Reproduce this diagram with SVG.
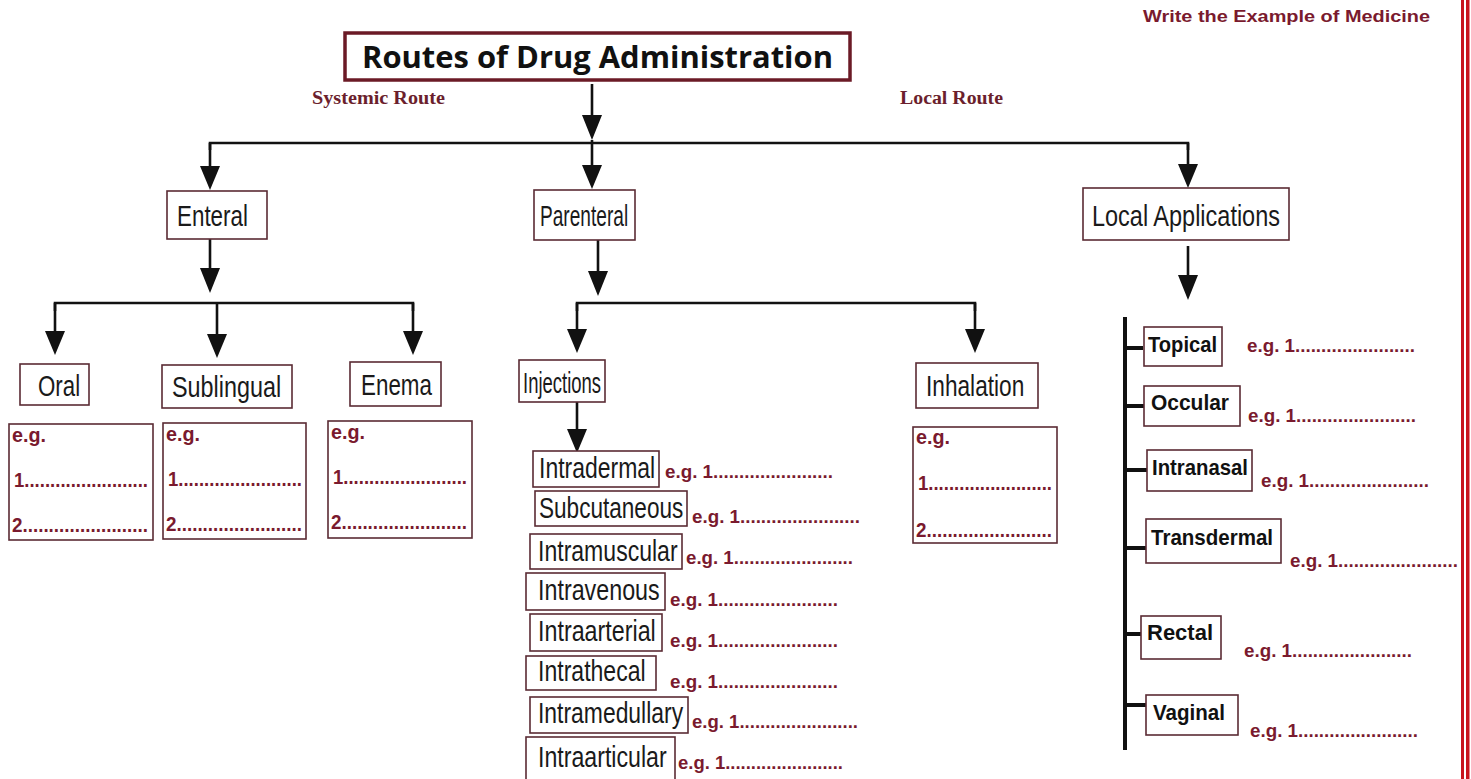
<svg xmlns="http://www.w3.org/2000/svg" width="1471" height="779" viewBox="0 0 1471 779">
<style>
.bx{fill:#fff;stroke:#5a2b34;stroke-width:1.6}
.lb{font-family:"Liberation Sans",Arial,sans-serif;font-size:29px;fill:#1a1a1a}
.lbb{font-family:"Liberation Sans",Arial,sans-serif;font-size:22px;font-weight:bold;fill:#111}
.eg{font-family:"Liberation Sans",Arial,sans-serif;font-size:19px;font-weight:bold;fill:#7a1a2e}
.egb{font-family:"Liberation Sans",Arial,sans-serif;font-size:21px;font-weight:bold;fill:#7a1a2e}
.rt{font-family:"Liberation Serif","Times New Roman",serif;font-size:18px;font-weight:bold;fill:#6b1f2d}
.ln{fill:none;stroke:#111;stroke-width:2.6}
.hd{fill:#111}
</style>
<rect width="1471" height="779" fill="#fff"/>
<rect x="1461" y="0" width="3" height="779" fill="#c8141c"/>
<rect x="1466" y="0" width="3.5" height="779" fill="#c8141c"/>

<text x="1143" y="22" font-family="Liberation Sans,Arial,sans-serif" font-size="16" font-weight="bold" fill="#7a1a2e" textLength="287" lengthAdjust="spacingAndGlyphs">Write the Example of Medicine</text>

<g id="title">
<rect x="345" y="33" width="505" height="47" fill="#fff" stroke="#6b1a26" stroke-width="3.5"/>
<text x="362" y="68" font-family="Open Sans,Liberation Sans,sans-serif" font-size="30" font-weight="bold" fill="#111" textLength="471" lengthAdjust="spacingAndGlyphs">Routes of Drug Administration</text>
</g>
<text class="rt" x="312" y="104" textLength="133" lengthAdjust="spacingAndGlyphs">Systemic Route</text>
<text class="rt" x="900" y="104" textLength="103" lengthAdjust="spacingAndGlyphs">Local Route</text>

<g id="connectors">
<path class="ln" d="M592 84 V118"/>
<path class="hd" d="M582 115 H602 L592 140 Z"/>
<path class="ln" d="M210 150 V143 H1188 V150"/>
<path class="ln" d="M592 140 V168"/>
<path class="hd" d="M582 165 H602 L592 189 Z"/>
<path class="ln" d="M210 143 V170"/>
<path class="hd" d="M200 166 H220 L210 190 Z"/>
<path class="ln" d="M1188 143 V168"/>
<path class="hd" d="M1178 164 H1198 L1188 188 Z"/>
<path class="ln" d="M210 238 V272"/>
<path class="hd" d="M200 268 H220 L210 293 Z"/>
<path class="ln" d="M55 311 V303 H413 V311"/>
<path class="ln" d="M55 303 V334"/>
<path class="hd" d="M45 331 H65 L55 355 Z"/>
<path class="ln" d="M217 303 V337"/>
<path class="hd" d="M207 334 H227 L217 358 Z"/>
<path class="ln" d="M413 303 V334"/>
<path class="hd" d="M403 331 H423 L413 355 Z"/>
<path class="ln" d="M598 240 V274"/>
<path class="hd" d="M588 271 H608 L598 296 Z"/>
<path class="ln" d="M577 311 V303 H975 V311"/>
<path class="ln" d="M577 303 V332"/>
<path class="hd" d="M567 329 H587 L577 353 Z"/>
<path class="ln" d="M975 303 V332"/>
<path class="hd" d="M965 329 H985 L975 353 Z"/>
<path class="ln" d="M577 402 V432"/>
<path class="hd" d="M567 429 H587 L577 453 Z"/>
<path class="ln" d="M1188 246 V278"/>
<path class="hd" d="M1178 275 H1198 L1188 300 Z"/>
<path d="M1125 317 V750" fill="none" stroke="#111" stroke-width="4"/>
<path d="M1125 348 H1143 M1125 406 H1144 M1125 470 H1147 M1125 548 H1146 M1125 634 H1141 M1125 705 H1146" fill="none" stroke="#111" stroke-width="4"/>
</g>

<g id="enteral"><rect class="bx" x="167" y="191" width="100" height="48"/><text class="lb" transform="translate(177 226) scale(0.78 1)" textLength="91" lengthAdjust="spacingAndGlyphs">Enteral</text></g>
<g id="parenteral"><rect class="bx" x="534" y="190" width="101" height="50"/><text class="lb" transform="translate(540 226) scale(0.78 1)" textLength="113" lengthAdjust="spacingAndGlyphs">Parenteral</text></g>
<g id="local-applications"><rect class="bx" x="1083" y="188" width="206" height="52"/><text class="lb" transform="translate(1092 226) scale(0.78 1)" textLength="241" lengthAdjust="spacingAndGlyphs">Local Applications</text></g>

<g id="oral"><rect class="bx" x="20" y="364" width="69" height="41"/><text class="lb" transform="translate(38 396) scale(0.78 1)" textLength="54" lengthAdjust="spacingAndGlyphs">Oral</text></g>
<g id="sublingual"><rect class="bx" x="162" y="365" width="130" height="43"/><text class="lb" transform="translate(172 397) scale(0.78 1)" textLength="140" lengthAdjust="spacingAndGlyphs">Sublingual</text></g>
<g id="enema"><rect class="bx" x="350" y="362" width="91" height="44"/><text class="lb" transform="translate(361 395) scale(0.78 1)" textLength="91" lengthAdjust="spacingAndGlyphs">Enema</text></g>

<g id="oral-eg"><rect class="bx" x="9" y="424" width="144" height="116"/>
<text class="egb" x="12" y="442" textLength="34" lengthAdjust="spacingAndGlyphs">e.g.</text>
<text class="egb" x="14" y="487" textLength="134" lengthAdjust="spacingAndGlyphs">1........................</text>
<text class="egb" x="12" y="532" textLength="136" lengthAdjust="spacingAndGlyphs">2........................</text></g>
<g id="sublingual-eg"><rect class="bx" x="163" y="423" width="143" height="116"/>
<text class="egb" x="166" y="441" textLength="34" lengthAdjust="spacingAndGlyphs">e.g.</text>
<text class="egb" x="168" y="486" textLength="134" lengthAdjust="spacingAndGlyphs">1........................</text>
<text class="egb" x="166" y="531" textLength="136" lengthAdjust="spacingAndGlyphs">2........................</text></g>
<g id="enema-eg"><rect class="bx" x="328" y="421" width="144" height="117"/>
<text class="egb" x="331" y="439" textLength="34" lengthAdjust="spacingAndGlyphs">e.g.</text>
<text class="egb" x="333" y="484" textLength="134" lengthAdjust="spacingAndGlyphs">1........................</text>
<text class="egb" x="331" y="529" textLength="136" lengthAdjust="spacingAndGlyphs">2........................</text></g>

<g id="injections"><rect class="bx" x="519" y="360" width="86" height="42"/><text class="lb" transform="translate(523 393) scale(0.78 1)" textLength="100" lengthAdjust="spacingAndGlyphs">Injections</text></g>
<g id="inhalation"><rect class="bx" x="916" y="363" width="122" height="45"/><text class="lb" transform="translate(926 396) scale(0.78 1)" textLength="126" lengthAdjust="spacingAndGlyphs">Inhalation</text></g>
<g id="inhalation-eg"><rect class="bx" x="913" y="427" width="144" height="116"/>
<text class="egb" x="916" y="444" textLength="34" lengthAdjust="spacingAndGlyphs">e.g.</text>
<text class="egb" x="918" y="490" textLength="134" lengthAdjust="spacingAndGlyphs">1........................</text>
<text class="egb" x="916" y="537" textLength="136" lengthAdjust="spacingAndGlyphs">2........................</text></g>

<g id="intradermal"><rect class="bx" x="533" y="451" width="126" height="36"/><text class="lb" transform="translate(539 478) scale(0.78 1)" textLength="149" lengthAdjust="spacingAndGlyphs">Intradermal</text><text class="eg" x="665" y="478" textLength="168" lengthAdjust="spacingAndGlyphs">e.g. 1.......................</text></g>
<g id="subcutaneous"><rect class="bx" x="535" y="491" width="152" height="35"/><text class="lb" transform="translate(539 518) scale(0.78 1)" textLength="185" lengthAdjust="spacingAndGlyphs">Subcutaneous</text><text class="eg" x="692" y="523" textLength="168" lengthAdjust="spacingAndGlyphs">e.g. 1.......................</text></g>
<g id="intramuscular"><rect class="bx" x="530" y="534" width="152" height="35"/><text class="lb" transform="translate(538 561) scale(0.78 1)" textLength="179" lengthAdjust="spacingAndGlyphs">Intramuscular</text><text class="eg" x="686" y="564" textLength="167" lengthAdjust="spacingAndGlyphs">e.g. 1.......................</text></g>
<g id="intravenous"><rect class="bx" x="526" y="573" width="139" height="37"/><text class="lb" transform="translate(538 600) scale(0.78 1)" textLength="156" lengthAdjust="spacingAndGlyphs">Intravenous</text><text class="eg" x="670" y="606" textLength="168" lengthAdjust="spacingAndGlyphs">e.g. 1.......................</text></g>
<g id="intraarterial"><rect class="bx" x="530" y="614" width="132" height="37"/><text class="lb" transform="translate(538 641) scale(0.78 1)" textLength="151" lengthAdjust="spacingAndGlyphs">Intraarterial</text><text class="eg" x="670" y="647" textLength="168" lengthAdjust="spacingAndGlyphs">e.g. 1.......................</text></g>
<g id="intrathecal"><rect class="bx" x="526" y="656" width="130" height="34"/><text class="lb" transform="translate(538 681) scale(0.78 1)" textLength="138" lengthAdjust="spacingAndGlyphs">Intrathecal</text><text class="eg" x="670" y="688" textLength="168" lengthAdjust="spacingAndGlyphs">e.g. 1.......................</text></g>
<g id="intramedullary"><rect class="bx" x="530" y="697" width="158" height="36"/><text class="lb" transform="translate(538 723) scale(0.78 1)" textLength="186" lengthAdjust="spacingAndGlyphs">Intramedullary</text><text class="eg" x="692" y="728" textLength="166" lengthAdjust="spacingAndGlyphs">e.g. 1.......................</text></g>
<g id="intraarticular"><rect class="bx" x="526" y="737" width="149" height="45"/><text class="lb" transform="translate(538 767) scale(0.78 1)" textLength="165" lengthAdjust="spacingAndGlyphs">Intraarticular</text><text class="eg" x="678" y="769" textLength="165" lengthAdjust="spacingAndGlyphs">e.g. 1.......................</text></g>

<g id="topical"><rect class="bx" x="1144" y="327" width="78" height="39"/><text class="lbb" x="1148" y="352" textLength="69" lengthAdjust="spacingAndGlyphs">Topical</text><text class="eg" x="1247" y="352" textLength="168" lengthAdjust="spacingAndGlyphs">e.g. 1.......................</text></g>
<g id="occular"><rect class="bx" x="1144" y="386" width="96" height="40"/><text class="lbb" x="1151" y="410" textLength="78" lengthAdjust="spacingAndGlyphs">Occular</text><text class="eg" x="1248" y="422" textLength="168" lengthAdjust="spacingAndGlyphs">e.g. 1.......................</text></g>
<g id="intranasal"><rect class="bx" x="1147" y="450" width="105" height="41"/><text class="lbb" x="1152" y="475" textLength="96" lengthAdjust="spacingAndGlyphs">Intranasal</text><text class="eg" x="1261" y="487" textLength="168" lengthAdjust="spacingAndGlyphs">e.g. 1.......................</text></g>
<g id="transdermal"><rect class="bx" x="1146" y="519" width="135" height="44"/><text class="lbb" x="1151" y="545" textLength="122" lengthAdjust="spacingAndGlyphs">Transdermal</text><text class="eg" x="1290" y="567" textLength="168" lengthAdjust="spacingAndGlyphs">e.g. 1.......................</text></g>
<g id="rectal"><rect class="bx" x="1141" y="616" width="80" height="43"/><text class="lbb" x="1147" y="640" textLength="66" lengthAdjust="spacingAndGlyphs">Rectal</text><text class="eg" x="1244" y="657" textLength="168" lengthAdjust="spacingAndGlyphs">e.g. 1.......................</text></g>
<g id="vaginal"><rect class="bx" x="1146" y="695" width="92" height="40"/><text class="lbb" x="1153" y="720" textLength="72" lengthAdjust="spacingAndGlyphs">Vaginal</text><text class="eg" x="1250" y="737" textLength="168" lengthAdjust="spacingAndGlyphs">e.g. 1.......................</text></g>
</svg>
